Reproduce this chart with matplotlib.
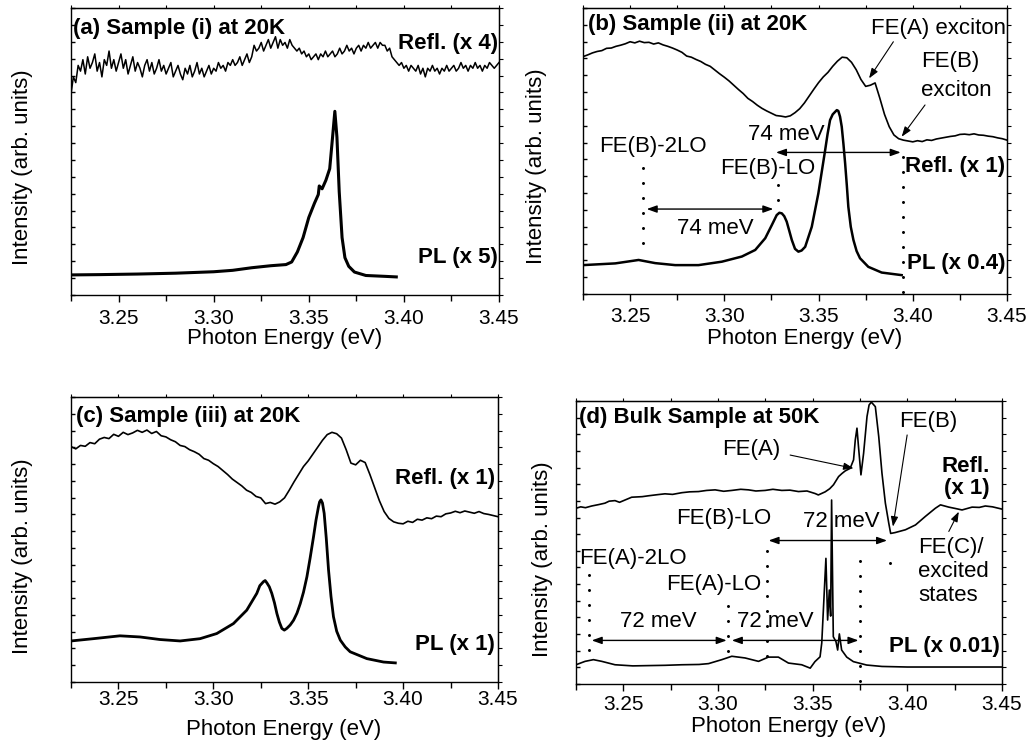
import numpy as np
import matplotlib
matplotlib.use("Agg")
import matplotlib.pyplot as plt
from matplotlib.ticker import MultipleLocator, FixedLocator, NullFormatter, FormatStrFormatter

plt.rcParams['font.family'] = ['Liberation Sans', 'DejaVu Sans']

# --- energy grids of the reflectance scans (eV) ---
E_GRID_A = np.round(np.arange(3.225, 3.45001, 0.00125), 5)
E_GRID = np.round(np.arange(3.225, 3.4501, 0.0025), 4)

# --- (a) sample (i), 20K ---
REFL_A = [70, 76, 74, 80, 78, 82, 77, 83, 79, 81,
          84, 78, 81, 76, 82, 80, 85, 79, 82, 78,
          81, 84, 79, 82, 77, 80, 83, 78, 81, 79,
          76, 80, 82, 78, 81, 77, 79, 82, 78, 80,
          77, 79, 81, 76, 78, 80, 77, 75, 79, 77,
          80, 76, 78, 81, 77, 79, 76, 78, 80, 77,
          79, 78, 81, 79, 80, 78, 81, 80, 82, 80,
          81, 83, 80, 82, 84, 81, 83, 87, 85, 86,
          88, 85, 87, 89, 86, 88, 90, 86, 89, 87,
          88, 86, 89, 87, 86, 85, 86, 84, 85, 83,
          84, 82, 83, 84, 82, 84, 83, 85, 83, 84,
          85, 83, 84, 86, 84, 85, 87, 85, 86, 84,
          86, 87, 85, 87, 86, 88, 86, 87, 88, 86,
          88, 87, 87, 85, 86, 83, 82, 81, 80, 81,
          79, 80, 78, 80, 79, 78, 80, 77, 79, 76,
          79, 78, 80, 78, 79, 77, 79, 78, 80, 78,
          79, 80, 78, 79, 81, 79, 80, 78, 80, 79,
          81, 79, 80, 78, 80, 79, 81, 80, 79, 80,
          81]
E_PL_A = [3.225, 3.24, 3.26, 3.28, 3.30, 3.31, 3.32, 3.33, 3.338, 3.341,
          3.344, 3.347, 3.350, 3.353, 3.355, 3.3555, 3.357, 3.359, 3.361, 3.3625,
          3.3637, 3.3648, 3.366, 3.3675, 3.369, 3.371, 3.374, 3.38, 3.39, 3.396]
PL_A = [7.0, 7.1, 7.3, 7.6, 8.1, 8.6, 9.5, 10.2, 10.6, 11.5,
        15, 20, 27, 32, 35, 38, 37, 40, 44, 55,
        64, 55, 36, 20, 13, 10, 8, 6.8, 6.5, 6.3]

# --- (b) sample (ii), 20K ---
REFL_B = [83.0, 83.6, 84.3, 84.8, 85.1, 85.9, 86.0, 86.6, 87.0, 87.5,
          88.2, 87.8, 88.4, 87.9, 88.0, 87.4, 87.8, 87.1, 86.6, 86.0,
          85.3, 84.5, 83.2, 82.8, 82.0, 81.3, 80.3, 79.6, 78.3, 77.0,
          75.8, 74.5, 73.0, 71.5, 70.1, 68.4, 67.3, 66.0, 64.9, 64.0,
          63.2, 62.4, 62.2, 61.9, 62.3, 63.4, 64.8, 66.8, 69.2, 71.6,
          73.9, 75.9, 77.5, 79.6, 81.4, 82.8, 82.6, 81.0, 78.4, 75.0,
          72.6, 73.0, 73.8, 68.5, 62.8, 58.5, 55.6, 54.3, 53.8, 53.5,
          53.2, 53.6, 53.3, 53.9, 53.7, 54.2, 54.5, 54.8, 55.1, 55.3,
          55.8, 55.9, 55.7, 56.0, 55.6, 55.5, 55.2, 55.0, 54.6, 54.3,
          53.8]
E_PL_B = [3.225, 3.2421, 3.2545, 3.2633, 3.2739, 3.2863, 3.2987, 3.3093, 3.3164, 3.3217,
          3.3252, 3.3278, 3.3292, 3.3305, 3.3318, 3.3331, 3.3345, 3.3358, 3.3375, 3.3393,
          3.341, 3.3429, 3.3464, 3.3499, 3.3535, 3.3548, 3.3561, 3.3575, 3.3588, 3.3597,
          3.3605, 3.3614, 3.3623, 3.3632, 3.3641, 3.365, 3.3658, 3.3671, 3.3685, 3.3702,
          3.372, 3.3764, 3.3835, 3.3941]
PL_B = [10.1, 10.7, 11.9, 10.8, 10.1, 10.1, 11.3, 13.1, 15.4, 19.5,
        24.1, 27.6, 28.4, 28.2, 27.2, 25.3, 22.0, 18.9, 15.8, 14.8,
        15.2, 16.5, 23.5, 35.2, 50.3, 56.0, 60.8, 62.8, 63.7, 64.3,
        64.0, 62.0, 58.5, 52.5, 45.7, 38.0, 30.5, 23.5, 18.9, 15.0,
        12.5, 9.5, 7.5, 6.6]

# --- (c) sample (iii), 20K ---
REFL_C = [82.6, 81.8, 83.0, 82.7, 84.0, 83.6, 85.2, 85.8, 85.4, 86.9,
          86.2, 87.6, 86.8, 87.4, 88.3, 87.6, 88.4, 87.2, 87.9, 86.4,
          86.0, 85.0, 84.3, 83.0, 82.6, 81.5, 80.8, 79.9, 78.4, 77.8,
          76.6, 75.6, 74.2, 72.8, 71.2, 70.0, 68.8, 67.3, 66.5, 65.1,
          64.6, 62.6, 63.0, 62.4, 63.2, 64.6, 67.3, 70.2, 72.9, 75.6,
          77.6, 80.0, 82.4, 84.8, 86.8, 87.6, 87.1, 85.6, 81.5, 76.8,
          76.2, 77.8, 77.0, 72.8, 68.2, 63.6, 59.8, 57.4, 56.2, 55.7,
          55.5, 56.4, 56.0, 57.1, 56.8, 57.6, 57.3, 58.2, 58.0, 59.0,
          59.3, 59.9, 59.4, 60.0, 59.6, 59.2, 59.8, 59.1, 58.8, 58.4,
          58.0]
E_PL_C = [3.225, 3.2368, 3.2508, 3.2614, 3.2719, 3.2825, 3.293, 3.3018, 3.3106, 3.3176,
          3.3229, 3.3245, 3.3264, 3.3273, 3.3282, 3.3295, 3.3308, 3.3322, 3.3335, 3.3348,
          3.3361, 3.3374, 3.3387, 3.3405, 3.3423, 3.3441, 3.3458, 3.3475, 3.3493, 3.351,
          3.3528, 3.3541, 3.3554, 3.356, 3.3567, 3.3575, 3.3584, 3.3595, 3.3607, 3.362,
          3.3633, 3.365, 3.3669, 3.3695, 3.3721, 3.3809, 3.3897, 3.3959]
PL_C = [14.4, 15.2, 16.2, 15.8, 14.9, 14.4, 15.2, 17.0, 20.5, 25.2,
        31.1, 33.8, 35.2, 35.6, 34.8, 33.4, 31.1, 27.8, 24.0, 21.0,
        18.8, 18.2, 18.8, 20.0, 21.7, 24.2, 27.5, 31.5, 36.9, 43.5,
        51.0, 56.8, 61.5, 63.2, 63.9, 62.8, 59.2, 50.5, 39.3, 30.0,
        22.9, 17.8, 14.7, 12.3, 10.6, 8.2, 7.0, 6.7]

# --- (d) bulk sample, 50K ---
E_REFL_D = [3.225, 3.2275, 3.23, 3.2333, 3.237, 3.2403, 3.2425, 3.2456, 3.248, 3.2544,
            3.26, 3.2632, 3.268, 3.272, 3.276, 3.2809, 3.285, 3.2897, 3.294, 3.2985,
            3.303, 3.3073, 3.312, 3.3161, 3.32, 3.3249, 3.329, 3.3337, 3.338, 3.3425,
            3.347, 3.3513, 3.353, 3.3566, 3.359, 3.361, 3.3637, 3.3655, 3.3672, 3.3698,
            3.3716, 3.3725, 3.3734, 3.3742, 3.3755, 3.3769, 3.3787, 3.3798, 3.381, 3.3831,
            3.3849, 3.3866, 3.3884, 3.3902, 3.3912, 3.3935, 3.399, 3.4043, 3.4095, 3.4148,
            3.4175, 3.4219, 3.4255, 3.4289, 3.4342, 3.438, 3.4412, 3.445, 3.45]
REFL_D = [62.1, 62.6, 62.3, 62.9, 63.4, 63.9, 64.6, 64.8, 64.2, 66.0,
          66.2, 66.5, 66.9, 67.2, 67.0, 67.6, 67.9, 68.0, 68.4, 68.6,
          68.1, 68.4, 68.8, 68.6, 68.2, 68.4, 68.8, 68.4, 68.5, 68.0,
          68.2, 67.3, 66.8, 67.9, 69.0, 70.4, 73.3, 74.4, 75.3, 76.2,
          79.2, 86.2, 90.4, 83.9, 73.9, 81.5, 94.5, 98.6, 99.6, 98.0,
          87.4, 74.5, 63.9, 56.8, 53.2, 53.5, 54.5, 56.2, 59.2, 62.1,
          63.3, 62.5, 62.0, 61.5, 62.5, 62.4, 62.9, 62.6, 61.8]
E_PL_D = [3.225, 3.2298, 3.2342, 3.2386, 3.2456, 3.255, 3.2632, 3.272, 3.2809, 3.29,
          3.295, 3.302, 3.3073, 3.3143, 3.3214, 3.3266, 3.3319, 3.3372, 3.3442, 3.3487,
          3.3512, 3.3539, 3.3548, 3.357, 3.3579, 3.3588, 3.3595, 3.36, 3.3609, 3.3623,
          3.3632, 3.3641, 3.3653, 3.368, 3.3715, 3.3785, 3.3866, 3.40, 3.42, 3.45]
PL_D = [6.8, 8.0, 8.6, 8.0, 6.8, 6.4, 6.5, 6.6, 6.8, 6.9,
        7.2, 8.6, 9.8, 9.2, 8.0, 9.5, 9.5, 7.4, 6.8, 5.6,
        7.9, 9.6, 14.5, 44.4, 22.6, 33.2, 24.0, 65.0, 16.7, 15.0,
        12.0, 17.7, 12.0, 9.5, 7.9, 6.7, 6.2, 6.0, 6.0, 6.0]

# LO replica markers: (energy, y from, y to)
MARKS_B = [(3.257, 17.8, 45.8), (3.3286, 33.0, 39.0), (3.3946, 0.8, 49.7)]
MARKS_D = [(3.2319, 12.1, 39.2), (3.3055, 11.5, 28.6), (3.3258, 9.8, 52.1),
           (3.375, 1.2, 48.6), (3.3906, 42.7, 48.0)]

FS = 16
Y_TICKS = np.linspace(0, 100, 18)


def setup_axes(ax, tick_pad, xlab_x, xlab_y, ylab_x, ylab_y):
    ax.set_xlim(3.225, 3.45)
    ax.set_ylim(0, 100)
    ax.xaxis.set_major_locator(MultipleLocator(0.05))
    ax.xaxis.set_minor_locator(MultipleLocator(0.025))
    ax.xaxis.set_major_formatter(FormatStrFormatter('%.2f'))
    ax.yaxis.set_major_locator(FixedLocator(Y_TICKS))
    ax.yaxis.set_major_formatter(NullFormatter())
    ax.tick_params(axis='x', which='major', direction='out', length=5, width=1,
                   labelsize=15, pad=tick_pad)
    ax.tick_params(axis='x', which='minor', direction='out', length=4, width=1)
    ax.tick_params(axis='y', direction='in', length=3, width=1)
    for s in ax.spines.values():
        s.set_linewidth(1.0)

    top = ax.secondary_xaxis('top')
    top.xaxis.set_major_locator(MultipleLocator(0.025))
    top.tick_params(direction='out', length=2.5, width=0.8, labeltop=False)
    right = ax.secondary_yaxis('right')
    right.yaxis.set_major_locator(FixedLocator(Y_TICKS))
    right.tick_params(direction='out', length=3, width=0.8, labelright=False)

    ax.set_xlabel("Photon Energy (eV)", fontsize=FS)
    ax.xaxis.set_label_coords(xlab_x, xlab_y)
    ax.set_ylabel("Intensity (arb. units)", fontsize=FS)
    ax.yaxis.set_label_coords(ylab_x, ylab_y)


def dotted(ax, marks):
    for e, y0, y1 in marks:
        ax.plot([e, e], [y0, y1], color='k', lw=2.2, linestyle=(0, (0.01, 4.9)),
                dash_capstyle='round', clip_on=False)


def span_arrow(ax, x0, x1, y):
    ax.annotate('', xy=(x1, y), xytext=(x0, y),
                arrowprops=dict(arrowstyle='<|-|>,head_length=0.5,head_width=0.18',
                                lw=1, color='k', shrinkA=0, shrinkB=0, mutation_scale=12))


def pointer(ax, xy_from, xy_to):
    ax.annotate('', xy=xy_to, xytext=xy_from,
                arrowprops=dict(arrowstyle='-|>,head_length=0.5,head_width=0.18',
                                lw=0.8, color='k', shrinkA=0, shrinkB=0, mutation_scale=12))


fig = plt.figure(figsize=(10.31, 7.4), dpi=100)
ax_a = fig.add_axes([0.06887, 0.60135, 0.41513, 0.38784])
ax_b = fig.add_axes([0.56547, 0.60270, 0.41125, 0.38649])
ax_c = fig.add_axes([0.06887, 0.07838, 0.41416, 0.38514])
ax_d = fig.add_axes([0.55868, 0.07568, 0.41319, 0.38243])

# --- panel (a) ---
ax = ax_a
ax.plot(E_GRID_A, REFL_A, color='k', lw=1.1)
ax.plot(E_PL_A, PL_A, color='k', lw=2.2)
setup_axes(ax, 4.8, 0.498, -0.114, -0.088, 0.446)
ax.text(0.005, 0.927, "(a) Sample (i) at 20K", transform=ax.transAxes,
        fontsize=FS, fontweight='bold', ha='left', va='center')
ax.text(3.4493, 87.8, "Refl. (x 4)", fontsize=FS, fontweight='bold', ha='right', va='center')
ax.text(3.4493, 13.2, "PL (x 5)", fontsize=FS, fontweight='bold', ha='right', va='center')

# --- panel (b) ---
ax = ax_b
ax.plot(E_GRID, REFL_B, color='k', lw=1.2)
ax.plot(E_PL_B, PL_B, color='k', lw=1.8)
setup_axes(ax, 4.2, 0.522, -0.118, -0.086, 0.448)
ax.text(0.011, 0.944, "(b) Sample (ii) at 20K", transform=ax.transAxes,
        fontsize=FS, fontweight='bold', ha='left', va='center')
ax.text(3.4495, 92.9, "FE(A) exciton", fontsize=FS, ha='right', va='center')
ax.text(3.4198, 81.2, "FE(B)", fontsize=FS, ha='center', va='center')
ax.text(3.4233, 71.3, "exciton", fontsize=FS, ha='center', va='center')
pointer(ax, (3.3897, 88.2), (3.3768, 75.4))
pointer(ax, (3.4065, 66.1), (3.3941, 55.0))
ax.text(3.3331, 55.6, "74 meV", fontsize=FS, ha='center', va='center')
ax.text(3.2623, 51.5, "FE(B)-2LO", fontsize=FS, ha='center', va='center')
ax.text(3.3233, 43.9, "FE(B)-LO", fontsize=FS, ha='center', va='center')
ax.text(3.295, 23.0, "74 meV", fontsize=FS, ha='center', va='center')
dotted(ax, MARKS_B)
span_arrow(ax, 3.2588, 3.326, 29.7)
span_arrow(ax, 3.3274, 3.3936, 49.5)
ax.text(3.449, 44.5, "Refl. (x 1)", fontsize=FS, fontweight='bold', ha='right', va='center')
ax.text(3.449, 10.7, "PL (x 0.4)", fontsize=FS, fontweight='bold', ha='right', va='center')

# --- panel (c) ---
ax = ax_c
ax.plot(E_GRID, REFL_C, color='k', lw=1.2)
ax.plot(E_PL_C, PL_C, color='k', lw=2.0)
setup_axes(ax, 0.5, 0.497, -0.13, -0.088, 0.443)
ax.text(0.012, 0.933, "(c) Sample (iii) at 20K", transform=ax.transAxes,
        fontsize=FS, fontweight='bold', ha='left', va='center')
ax.text(3.4484, 71.5, "Refl. (x 1)", fontsize=FS, fontweight='bold', ha='right', va='center')
ax.text(3.4484, 13.0, "PL (x 1)", fontsize=FS, fontweight='bold', ha='right', va='center')

# --- panel (d) ---
ax = ax_d
ax.plot(E_REFL_D, REFL_D, color='k', lw=1.2)
ax.plot(E_PL_D, PL_D, color='k', lw=1.2)
setup_axes(ax, 2.8, 0.498, -0.112, -0.053, 0.442)
ax.text(0.008, 0.942, "(d) Bulk Sample at 50K", transform=ax.transAxes,
        fontsize=FS, fontweight='bold', ha='left', va='center')
ax.text(3.3178, 82.7, "FE(A)", fontsize=FS, ha='center', va='center')
pointer(ax, (3.3381, 80.9), (3.3716, 76.2))
ax.text(3.4112, 92.7, "FE(B)", fontsize=FS, ha='center', va='center')
pointer(ax, (3.3999, 88.0), (3.3924, 55.6))
ax.text(3.4435, 76.8, "Refl.", fontsize=FS, fontweight='bold', ha='right', va='center')
ax.text(3.4435, 69.2, "(x 1)", fontsize=FS, fontweight='bold', ha='right', va='center')
ax.text(3.4057, 39.8, "FE(C)/\nexcited\nstates", fontsize=FS, ha='left', va='center',
        linespacing=1.2)
pointer(ax, (3.4219, 53.9), (3.4272, 60.9))
ax.text(3.3028, 58.6, "FE(B)-LO", fontsize=FS, ha='center', va='center')
ax.text(3.3653, 57.4, "72 meV", fontsize=FS, ha='center', va='center')
ax.text(3.2266, 44.5, "FE(A)-2LO", fontsize=FS, ha='left', va='center')
ax.text(3.2976, 35.1, "FE(A)-LO", fontsize=FS, ha='center', va='center')
ax.text(3.2685, 22.1, "72 meV", fontsize=FS, ha='center', va='center')
ax.text(3.3301, 22.1, "72 meV", fontsize=FS, ha='center', va='center')
dotted(ax, MARKS_D)
span_arrow(ax, 3.3267, 3.3893, 50.7)
span_arrow(ax, 3.2333, 3.3046, 15.4)
span_arrow(ax, 3.3073, 3.3742, 15.4)
ax.text(3.4489, 13.3, "PL (x 0.01)", fontsize=FS, fontweight='bold', ha='right', va='center')

fig.savefig("out.png", dpi=100)
